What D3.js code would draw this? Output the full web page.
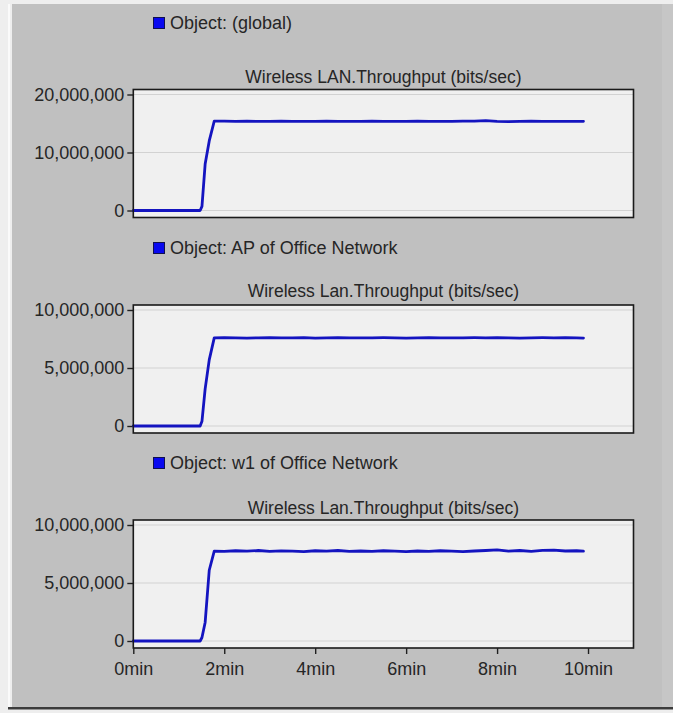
<!DOCTYPE html>
<html>
<head>
<meta charset="utf-8">
<script src="https://cdn.jsdelivr.net/npm/d3@7"></script>
<style>
  body { margin: 0; background: #ffffff; }
  svg text { font-family: "Liberation Sans", Arial, sans-serif; fill: #262626; }
</style>
</head>
<body>
<div id="chart"></div>
<script>
// sample times (minutes)
const timeMin = [0, 0.5, 1.0, 1.47, 1.51, 1.58, 1.67, 1.78, 2.0, 2.25, 2.5, 2.75, 3.0, 3.25, 3.5, 3.75,
  4.0, 4.25, 4.5, 4.75, 5.0, 5.25, 5.5, 5.75, 6.0, 6.25, 6.5, 6.75, 7.0, 7.25, 7.5, 7.75,
  8.0, 8.25, 8.5, 8.75, 9.0, 9.25, 9.5, 9.75, 9.9];

// throughput in Mbit/s
const globalThroughput = [0, 0, 0, 0, 0.7, 8.0, 12.0, 15.4, 15.42, 15.38, 15.4, 15.36, 15.38, 15.42, 15.37, 15.35,
  15.38, 15.4, 15.36, 15.38, 15.37, 15.4, 15.35, 15.38, 15.36, 15.4, 15.38, 15.35, 15.38, 15.4, 15.42, 15.5,
  15.38, 15.32, 15.36, 15.4, 15.37, 15.38, 15.36, 15.38, 15.37];
const apThroughput = [0, 0, 0, 0, 0.4, 3.2, 5.7, 7.6, 7.62, 7.6, 7.58, 7.6, 7.62, 7.59, 7.6, 7.61,
  7.58, 7.6, 7.62, 7.6, 7.59, 7.6, 7.61, 7.6, 7.58, 7.6, 7.62, 7.6, 7.59, 7.6, 7.61, 7.6,
  7.62, 7.6, 7.58, 7.6, 7.61, 7.6, 7.62, 7.6, 7.58];
const w1Throughput = [0, 0, 0, 0, 0.3, 1.6, 6.1, 7.75, 7.72, 7.78, 7.74, 7.8, 7.72, 7.77, 7.75, 7.7,
  7.78, 7.74, 7.8, 7.73, 7.76, 7.72, 7.78, 7.74, 7.7, 7.76, 7.72, 7.78, 7.74, 7.7, 7.76, 7.8,
  7.85, 7.74, 7.8, 7.72, 7.82, 7.84, 7.76, 7.78, 7.74];

const legendLabels = ["Object: (global)", "Object: AP of Office Network", "Object: w1 of Office Network"];
const chartTitles = ["Wireless LAN.Throughput (bits/sec)", "Wireless Lan.Throughput (bits/sec)", "Wireless Lan.Throughput (bits/sec)"];
const yTickValues = [[0, 10, 20], [0, 5, 10], [0, 5, 10]];
const xTickValues = [0, 2, 4, 6, 8, 10];
const xTickLabels = ["0min", "2min", "4min", "6min", "8min", "10min"];

const series = [globalThroughput, apThroughput, w1Throughput];

const width = 673, height = 713;
const frameTops = [89.5, 305, 520];
const legendY = [29, 254, 469];
const titleY = [83, 297, 514];
const frameH = 128;

const svg = d3.select("#chart").append("svg").attr("width", width).attr("height", height);

// window background
svg.append("rect").attr("x", 0).attr("y", 0).attr("width", width).attr("height", height).attr("fill", "#eeeeee");
svg.append("rect").attr("x", 12).attr("y", 4).attr("width", width - 12).attr("height", 703).attr("fill", "#c0c0c0");
svg.append("rect").attr("x", 8).attr("y", 4).attr("width", 2).attr("height", 703).attr("fill", "#fafafa");
svg.append("rect").attr("x", 662).attr("y", 4).attr("width", 11).attr("height", 703).attr("fill", "#c6c6c6");
svg.append("rect").attr("x", 8).attr("y", 707).attr("width", width - 8).attr("height", 2.5).attr("fill", "#3c3c3c");

const x = d3.scaleLinear().domain([0, 11]).range([133.3, 633.5]);

series.forEach((values, i) => {
    const top = frameTops[i];
    const ticks = yTickValues[i];
    const y = d3.scaleLinear().domain([0, d3.max(ticks)]).range([top + 121, top + 5]);
    const g = svg.append("g");

    // legend
    g.append("rect").attr("x", 153.5).attr("y", legendY[i] - 11.5).attr("width", 11).attr("height", 11)
        .attr("fill", "#0808f0").attr("stroke", "#101050").attr("stroke-width", 1);
    g.append("text").attr("x", 170).attr("y", legendY[i]).attr("font-size", 18).text(legendLabels[i]);

    // title
    g.append("text").attr("x", (x(0) + x(11)) / 2).attr("y", titleY[i]).attr("text-anchor", "middle")
        .attr("font-size", 17.5).text(chartTitles[i]);

    // plot area
    g.append("rect").attr("x", x(0)).attr("y", top).attr("width", x(11) - x(0)).attr("height", frameH)
        .attr("fill", "#f0f0f0");

    // grid lines
    g.selectAll(".grid").data(ticks).enter().append("line")
        .attr("x1", x(0)).attr("x2", x(11))
        .attr("y1", d => y(d)).attr("y2", d => y(d))
        .attr("stroke", "#d2d2d2").attr("stroke-width", 1.2);

    // y axis
    const yAxis = g.append("g").attr("transform", `translate(${x(0)},0)`)
        .call(d3.axisLeft(y).tickValues(ticks).tickSize(6).tickPadding(3).tickFormat(d => d3.format(",")(d * 1e6)));
    yAxis.select(".domain").remove();
    yAxis.selectAll(".tick line").attr("stroke", "#202020").attr("stroke-width", 1.4);
    yAxis.selectAll(".tick text").attr("font-size", 18).attr("font-family", null).attr("fill", "#262626");

    // throughput line
    const line = d3.line().x((d, j) => x(timeMin[j])).y(d => y(d));
    g.append("path").datum(values).attr("d", line)
        .attr("fill", "none").attr("stroke", "#1414c0").attr("stroke-width", 2.8)
        .attr("stroke-linejoin", "round").attr("stroke-linecap", "round");

    // frame
    g.append("rect").attr("x", x(0)).attr("y", top).attr("width", x(11) - x(0)).attr("height", frameH)
        .attr("fill", "none").attr("stroke", "#1a1a1a").attr("stroke-width", 1.6);

    // x axis on the last panel only
    if (i === series.length - 1) {
        const xAxis = g.append("g").attr("transform", `translate(0,${top + frameH})`)
            .call(d3.axisBottom(x).tickValues(xTickValues).tickSize(6).tickPadding(8)
                .tickFormat((d, k) => xTickLabels[k]));
        xAxis.select(".domain").remove();
        xAxis.selectAll(".tick line").attr("stroke", "#202020").attr("stroke-width", 1.4);
        xAxis.selectAll(".tick text").attr("font-size", 18).attr("font-family", null).attr("fill", "#262626");
    }
});
</script>
</body>
</html>
